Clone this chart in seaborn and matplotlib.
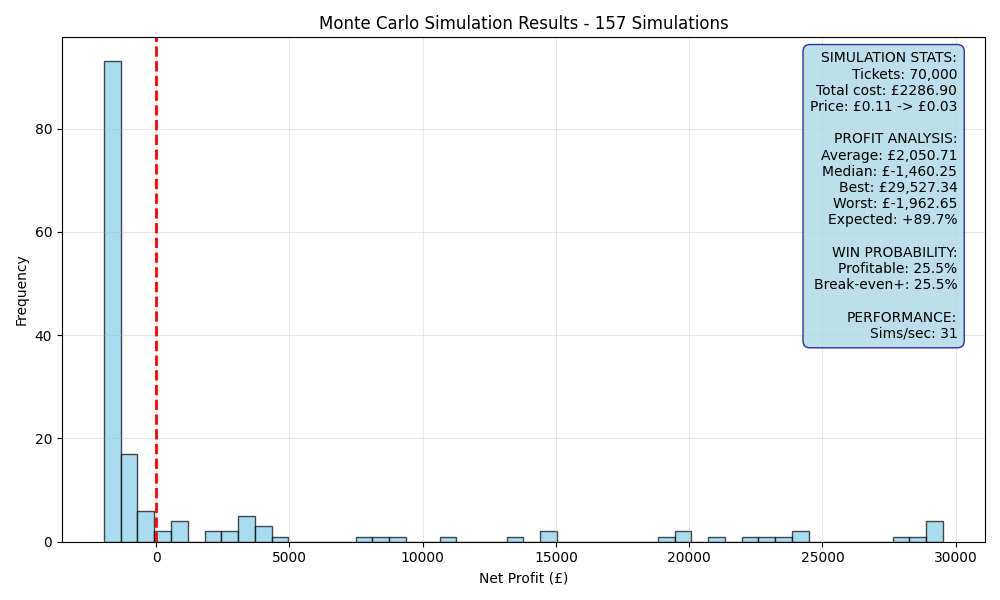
import numpy as np
import pandas as pd
import seaborn as sns
import matplotlib
matplotlib.use("Agg")
import matplotlib.pyplot as plt

# histogram counts (50 equal bins between worst and best)
worst = -1962.65
best = 29527.34
counts = [93, 17, 6, 2, 4, 0, 2, 2, 5, 3,
          1, 0, 0, 0, 0, 1, 1, 1, 0, 0,
          1, 0, 0, 0, 1, 0, 2, 0, 0, 0,
          0, 0, 0, 1, 2, 0, 1, 0, 1, 1,
          1, 2, 0, 0, 0, 0, 0, 1, 1, 4]

stats_lines = [
    "SIMULATION STATS:",
    "Tickets: 70,000",
    "Total cost: £2286.90",
    "Price: £0.11 -> £0.03",
    "",
    "PROFIT ANALYSIS:",
    "Average: £2,050.71",
    "Median: £-1,460.25",
    "Best: £29,527.34",
    "Worst: £-1,962.65",
    "Expected: +89.7%",
    "",
    "WIN PROBABILITY:",
    "Profitable: 25.5%",
    "Break-even+: 25.5%",
    "",
    "PERFORMANCE:",
    "Sims/sec: 31",
]

edges = np.linspace(worst, best, len(counts) + 1)
df = pd.DataFrame({"profit": (edges[:-1] + edges[1:]) / 2, "n": counts})

fig, ax = plt.subplots(figsize=(10, 6), dpi=100)
sns.histplot(data=df, x="profit", weights="n", bins=len(counts),
             binrange=(worst, best), ax=ax,
             color="skyblue", alpha=0.7, edgecolor=(0, 0, 0, 0.7), linewidth=1)
ax.axvline(0, color="red", linestyle="--", linewidth=2)
ax.grid(True, alpha=0.3)
ax.set_title("Monte Carlo Simulation Results - 157 Simulations", fontsize=12)
ax.set_xlabel("Net Profit (£)")
ax.set_ylabel("Frequency")

ax.text(0.97, 0.972, "\n".join(stats_lines), transform=ax.transAxes,
        ha="right", va="top", fontsize=10,
        bbox=dict(boxstyle="round,pad=0.5", facecolor="lightblue", alpha=0.8,
                  edgecolor="navy"))

plt.tight_layout()
plt.savefig("out.png")
